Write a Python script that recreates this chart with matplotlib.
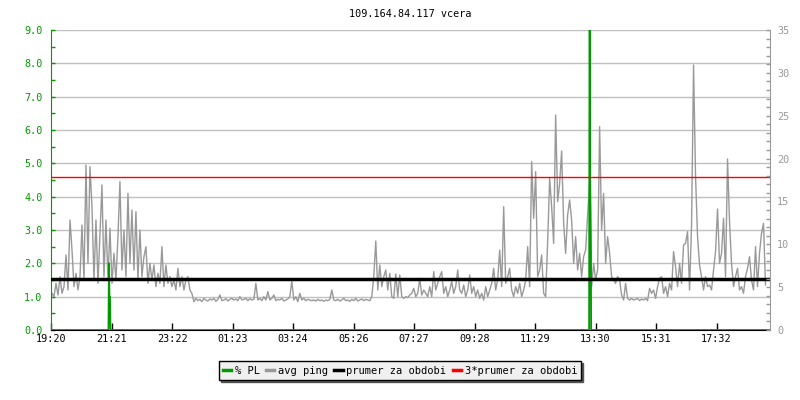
import matplotlib
matplotlib.use("Agg")
import matplotlib.pyplot as plt
import numpy as np

plt.rcParams['font.family'] = ['DejaVu Sans Mono']
plt.rcParams['font.size'] = 7.3

title = "109.164.84.117 vcera"

# x axis: minutes since 19:20, 2 minutes per pixel
tick_labels = ["19:20", "21:21", "23:22", "01:23", "03:24", "05:26",
               "07:27", "09:28", "11:29", "13:30", "15:31", "17:32"]
tick_step = 121.09
span = 1439

# avg ping, one sample every 4 minutes (left axis units)
avg_ping = [
    1.1, 1.0, 1.4, 1.05, 1.6, 1.1, 1.3, 2.25, 1.2, 3.3,
    2.4, 1.3, 1.7, 1.2, 1.6, 3.15, 1.5, 4.95, 2.0, 4.9,
    3.7, 1.5, 3.3, 1.4, 2.85, 4.35, 1.6, 3.3, 1.5, 3.05,
    1.4, 2.3, 1.5, 2.8, 4.45, 1.8, 3.0, 1.6, 4.1, 2.0,
    3.6, 1.8, 3.55, 1.5, 3.0, 1.6, 2.2, 2.5, 1.4, 2.0,
    1.5, 1.95, 1.3, 1.7, 1.4, 2.5, 1.3, 1.95, 1.4, 1.6,
    1.3, 1.5, 1.2, 1.85, 1.3, 1.6, 1.2, 1.5, 1.6, 1.2,
    1.1, 0.85, 0.95, 0.88, 0.92, 0.85, 0.95, 0.9, 0.87, 0.93,
    0.9, 0.95, 0.86, 0.92, 1.05, 0.88, 0.9, 0.94, 0.87, 0.92,
    0.95, 0.9, 0.93, 0.88, 1.0, 0.9, 0.92, 0.95, 0.88, 0.94,
    0.9, 0.92, 1.4, 0.9, 0.95, 0.88, 1.0, 0.9, 1.15, 0.9,
    0.95, 1.05, 0.88, 0.92, 0.9, 0.95, 0.87, 0.9, 0.93, 1.0,
    1.47, 0.9, 1.0, 0.85, 1.1, 0.9, 0.95, 0.88, 0.92, 0.9,
    0.88, 0.9, 0.87, 0.92, 0.88, 0.9, 0.86, 0.9, 0.88, 0.92,
    1.2, 0.9, 0.88, 0.92, 0.87, 0.9, 0.95, 0.88, 0.9, 0.86,
    0.92, 0.88, 0.95, 0.87, 0.9, 0.93, 0.88, 0.92, 0.9, 0.88,
    1.0, 1.6, 2.67, 1.2, 1.95, 1.3, 1.6, 1.8, 1.2, 1.7,
    1.0, 0.95, 1.68, 1.0, 1.65, 1.0, 0.95, 1.0, 0.97, 1.05,
    1.1, 1.25, 1.0, 1.1, 1.55, 1.05, 1.2, 1.1, 1.0, 1.3,
    1.0, 1.75, 1.2, 1.4, 1.6, 1.75, 1.1, 1.3, 1.0, 1.2,
    1.45, 1.1, 1.3, 1.8, 1.2, 1.1, 1.35, 1.0, 1.2, 1.65,
    1.1, 1.3, 1.0, 1.2, 0.95, 1.1, 0.9, 1.3, 1.0, 1.2,
    1.4, 1.85, 1.2, 1.5, 2.4, 1.3, 3.7, 1.4, 1.6, 1.85,
    1.2, 1.0, 1.3, 1.1, 1.4, 1.0, 1.2, 1.5, 2.5, 1.3,
    5.05, 3.35, 4.75, 1.6, 1.8, 2.25, 1.1, 1.0, 2.65, 4.55,
    3.7, 2.6, 6.45, 3.85, 4.4, 5.37, 3.2, 2.3, 3.45, 3.9,
    3.3, 2.0, 2.8, 1.8, 2.3, 1.6, 2.2, 2.4, 3.45, 4.4,
    1.3, 2.0, 1.5, 1.8, 6.1, 3.0, 4.1, 2.0, 2.8, 2.3,
    1.6, 1.5, 1.4, 1.6, 1.5, 1.05, 0.9, 1.4, 0.95, 0.9,
    0.95, 0.9, 0.92, 0.95, 0.88, 0.93, 0.9, 0.95, 0.88, 1.25,
    1.1, 1.2, 0.95, 1.3, 1.55, 1.6, 1.1, 1.3, 1.0, 1.4,
    1.2, 2.35, 1.9, 1.3, 2.0, 1.4, 2.55, 2.6, 2.95, 1.2,
    3.15, 7.95, 4.6, 2.8, 1.95, 1.6, 1.2, 1.6, 1.3, 1.35,
    1.2, 1.8, 2.35, 3.63, 2.0, 2.3, 3.35, 1.6, 5.13, 3.25,
    2.0, 1.3, 1.6, 1.85, 1.2, 1.3, 1.1, 1.6, 1.85, 2.2,
    1.5, 1.2, 2.5, 1.3, 2.3, 2.9, 3.2, 1.35,
]

# packet loss
pl_minutes = [0, 115, 116, 117, 118, 119, 1077, 1078, 1079, 1080, 1080.5, 1081, 1439]
pl_values = [0, 0, 2.0, 1.0, 1.0, 0, 0, 12.0, 4.5, 3.5, 2.4, 0, 0]

mean_ping = 1.535
mean3_ping = 4.6

green = '#009900'
gray = '#999999'

ping_minutes = 2 + 4 * np.arange(len(avg_ping))

fig = plt.figure(figsize=(8, 4), dpi=100)
ax = fig.add_axes([51 / 800, 70 / 400, 719 / 800, 300 / 400])

for y in range(1, 10):
    ax.axhline(y, color='#c0c0c0', lw=1, zorder=1)

ax.plot(ping_minutes, avg_ping, color=gray, lw=1, zorder=2, label='avg ping')
ax.plot(pl_minutes, pl_values, color=green, lw=1.3, zorder=3, label='% PL')
ax.axhline(mean_ping, color='black', lw=2.5, zorder=4, label='prumer za obdobi')
ax.axhline(mean3_ping, color='red', lw=1, zorder=5, label='3*prumer za obdobi')

ax.set_xlim(0, span)
ax.set_ylim(0, 9)
ax.set_xticks([k * tick_step for k in range(len(tick_labels))])
ax.set_xticklabels(tick_labels)
ax.set_yticks(np.arange(0, 10, 1))
ax.set_yticklabels(['%.1f' % v for v in range(10)])
ax.set_yticks(np.arange(0.5, 9, 1), minor=True)

ax.tick_params(axis='x', direction='in', length=5, width=1, color='black', pad=3)
ax.tick_params(axis='y', which='both', direction='in', length=3, width=1,
               color=green, labelcolor=green, pad=6)

for s in ['top', 'right']:
    ax.spines[s].set_visible(False)
ax.spines['left'].set_color(green)
ax.spines['bottom'].set_color('black')

ax2 = ax.twinx()
ax2.set_ylim(0, 35)
ax2.set_yticks(np.arange(0, 36, 5))
ax2.set_yticks(np.arange(0, 36, 1), minor=True)
ax2.tick_params(axis='y', which='both', direction='in', length=3, width=1,
                color=gray, labelcolor=gray, pad=5)
for s in ['top', 'left', 'bottom']:
    ax2.spines[s].set_visible(False)
ax2.spines['right'].set_color(gray)

fig.text((51 + 770) / 2 / 800, 1 - 14 / 400, title, ha='center', va='center', fontsize=7.3)

handles, labels = ax.get_legend_handles_labels()
order = [1, 0, 2, 3]
leg = fig.legend([handles[i] for i in order], [labels[i] for i in order],
                 loc='center', bbox_to_anchor=(0.5, 1 - 370.5 / 400), ncol=4,
                 frameon=True, fancybox=False, edgecolor='black', facecolor='#f0f0f0',
                 framealpha=1, shadow={'ox': 1.5, 'oy': -1.5, 'color': '#555555', 'alpha': 1},
                 handlelength=0.8, handletextpad=0.35, columnspacing=0.6,
                 borderpad=0.4, fontsize=7.5)
leg.get_frame().set_linewidth(1)
for line in leg.get_lines():
    line.set_linewidth(2.5)

fig.savefig('out.png', dpi=100)
